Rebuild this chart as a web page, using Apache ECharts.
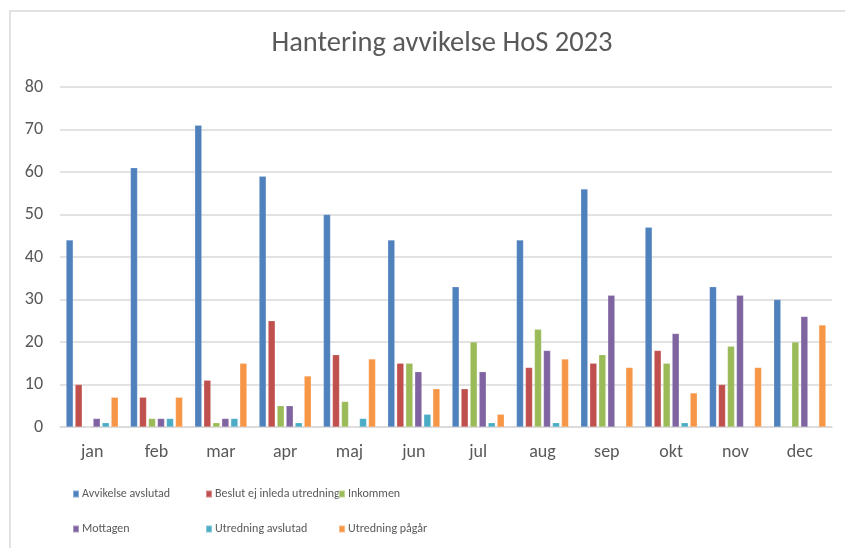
<!DOCTYPE html>
<html>
<head>
<meta charset="utf-8">
<script src="https://cdn.jsdelivr.net/npm/echarts@6/dist/echarts.min.js"></script>
<style>
  html, body { margin: 0; padding: 0; background: #fff; }
  #chart { width: 845px; height: 548px; }
</style>
</head>
<body>
<div id="chart"></div>
<script>
// Månader och serier för avvikelsehantering 2023
const months = ['jan', 'feb', 'mar', 'apr', 'maj', 'jun', 'jul', 'aug', 'sep', 'okt', 'nov', 'dec'];
const seriesNames = ['Avvikelse avslutad', 'Beslut ej inleda utredning', 'Inkommen', 'Mottagen', 'Utredning avslutad', 'Utredning pågår'];
const avvikelseAvslutad = [44, 61, 71, 59, 50, 44, 33, 44, 56, 47, 33, 30];
const beslutEjInleda    = [10, 7, 11, 25, 17, 15, 9, 14, 15, 18, 10, 0];
const inkommen          = [0, 2, 1, 5, 6, 15, 20, 23, 17, 15, 19, 20];
const mottagen          = [2, 2, 2, 5, 0, 13, 13, 18, 31, 22, 31, 26];
const utredningAvslutad = [1, 2, 2, 1, 2, 3, 1, 1, 0, 1, 0, 0];
const utredningPagar    = [7, 7, 15, 12, 16, 9, 3, 16, 14, 8, 14, 24];
const yTicks = [0, 10, 20, 30, 40, 50, 60, 70, 80];

const values = [avvikelseAvslutad, beslutEjInleda, inkommen, mottagen, utredningAvslutad, utredningPagar];
const colors = ['#4f81bd', '#c0504d', '#9bbb59', '#8064a2', '#4bacc6', '#f79646'];
const font = 'Carlito, Calibri, "Liberation Sans", sans-serif';
const textColor = '#595959';

const chart = echarts.init(document.getElementById('chart'), null, { renderer: 'canvas' });

// Legenden i tre kolumner med två rader vardera
const legendCols = [[0, 3], [1, 4], [2, 5]];
const legendLefts = [72, 205, 338];

chart.setOption({
  animation: false,
  backgroundColor: '#ffffff',
  color: colors,
  textStyle: { fontFamily: font },
  title: {
    text: 'Hantering avvikelse HoS 2023',
    left: 437,
    textAlign: 'center',
    top: 24,
    textStyle: { fontFamily: font, fontSize: 28.5, fontWeight: 'normal', color: textColor }
  },
  graphic: [{
    type: 'polyline',
    shape: { points: [[10, 560], [10, 11], [860, 11]] },
    style: { stroke: '#d9d9d9', lineWidth: 1.5, fill: null },
    silent: true
  }],
  legend: legendCols.map((idx, i) => ({
    orient: 'vertical',
    left: legendLefts[i],
    top: 488,
    padding: 0,
    itemWidth: 6,
    itemHeight: 7,
    itemGap: 23,
    icon: 'rect',
    selectedMode: false,
    data: idx.map(k => seriesNames[k]),
    textStyle: { fontFamily: font, fontSize: 12, color: textColor, padding: [0, 0, 0, -2] }
  })),
  grid: { left: 60, right: 13, top: 87, bottom: 121, containLabel: false },
  xAxis: {
    type: 'category',
    data: months,
    axisLine: { show: true, lineStyle: { color: '#d9d9d9', width: 1.5 } },
    axisTick: { show: false },
    axisLabel: { fontFamily: font, fontSize: 18, color: textColor, margin: 16 }
  },
  yAxis: {
    type: 'value',
    min: yTicks[0],
    max: yTicks[yTicks.length - 1],
    interval: 10,
    axisLine: { show: false },
    axisTick: { show: false },
    splitLine: { lineStyle: { color: '#d9d9d9', width: 1.5 } },
    axisLabel: { fontFamily: font, fontSize: 18, color: textColor, margin: 17 }
  },
  series: seriesNames.map((name, i) => ({
    name: name,
    type: 'bar',
    data: values[i],
    barGap: '28%',
    barCategoryGap: '19%',
    itemStyle: { color: colors[i], borderColor: 'rgba(255,255,255,0.35)', borderWidth: 0.5 }
  }))
});
</script>
</body>
</html>
